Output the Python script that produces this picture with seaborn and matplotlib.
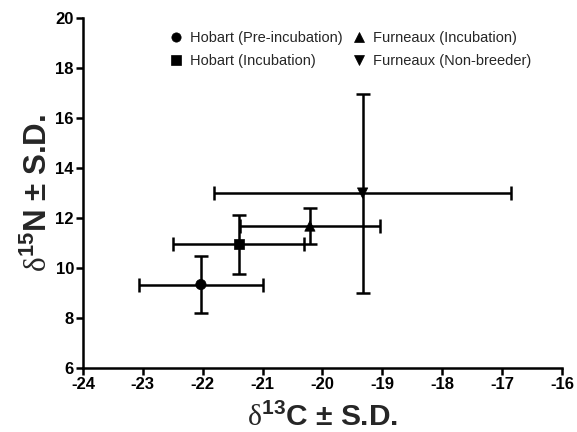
import matplotlib
matplotlib.use("Agg")
import matplotlib.pyplot as plt
import seaborn as sns
import pandas as pd

groups = ["Hobart (Pre-incubation)", "Hobart (Incubation)",
          "Furneaux (Incubation)", "Furneaux (Non-breeder)"]
d13c_mean = [-22.03, -21.40, -20.21, -19.33]
d13c_sd = [1.03, 1.09, 1.17, 2.48]
d15n_mean = [9.34, 10.95, 11.68, 13.0]
d15n_sd = [1.14, 1.18, 0.72, 3.98]
markers = {"Hobart (Pre-incubation)": "o", "Hobart (Incubation)": "s",
           "Furneaux (Incubation)": "^", "Furneaux (Non-breeder)": "v"}

df = pd.DataFrame({"group": groups, "x": d13c_mean, "y": d15n_mean,
                   "xsd": d13c_sd, "ysd": d15n_sd})

sns.set_theme(style="ticks")
plt.rcParams['font.family'] = ['Liberation Sans', 'DejaVu Sans']
plt.rcParams['mathtext.fontset'] = 'custom'
plt.rcParams['mathtext.rm'] = 'Liberation Serif'
plt.rcParams['mathtext.bf'] = 'Liberation Sans:bold'
plt.rcParams['axes.unicode_minus'] = False

fig = plt.figure(figsize=(5.77, 4.32), dpi=100)
ax = fig.add_axes([0.1438, 0.148, 0.974 - 0.1438, 0.9583 - 0.148])

ax.errorbar(df["x"], df["y"], xerr=df["xsd"], yerr=df["ysd"], fmt="none",
            ecolor="black", elinewidth=1.8, capsize=4.8, capthick=1.8, zorder=2)
sns.scatterplot(data=df, x="x", y="y", hue="group", style="group",
                markers=markers, palette=["black"] * 4, s=55,
                edgecolor="black", linewidth=0.5, ax=ax, zorder=3)

ax.set_xlim(-24, -16)
ax.set_ylim(6, 20)
ax.set_xticks(range(-24, -15, 1))
ax.set_yticks(range(6, 21, 2))
for s in ["top", "right"]:
    ax.spines[s].set_visible(False)
for s in ["left", "bottom"]:
    ax.spines[s].set_linewidth(1.8)
    ax.spines[s].set_color("black")
ax.tick_params(axis="both", direction="out", length=5, width=1.8,
               labelsize=12, colors="black", pad=1.5)
for lab in ax.get_xticklabels() + ax.get_yticklabels():
    lab.set_fontweight("bold")

ax.set_xlabel(r"$\mathrm{\delta}^{\mathbf{13}}$C ± S.D.", fontsize=21.5,
              fontweight="bold", labelpad=7)
ax.set_ylabel(r"$\mathrm{\delta}^{\mathbf{15}}$N ± S.D.", fontsize=22.5,
              fontweight="bold", labelpad=1)

h, l = ax.get_legend_handles_labels()
ax.legend(h, l, ncol=2, frameon=False,
          loc="upper left", bbox_to_anchor=(0.18, 0.963), fontsize=10.5,
          handlelength=1.0, handletextpad=0.45, columnspacing=0.6,
          labelspacing=0.6, borderaxespad=0, borderpad=0, markerscale=0.9)

fig.savefig("out.png", dpi=100)
